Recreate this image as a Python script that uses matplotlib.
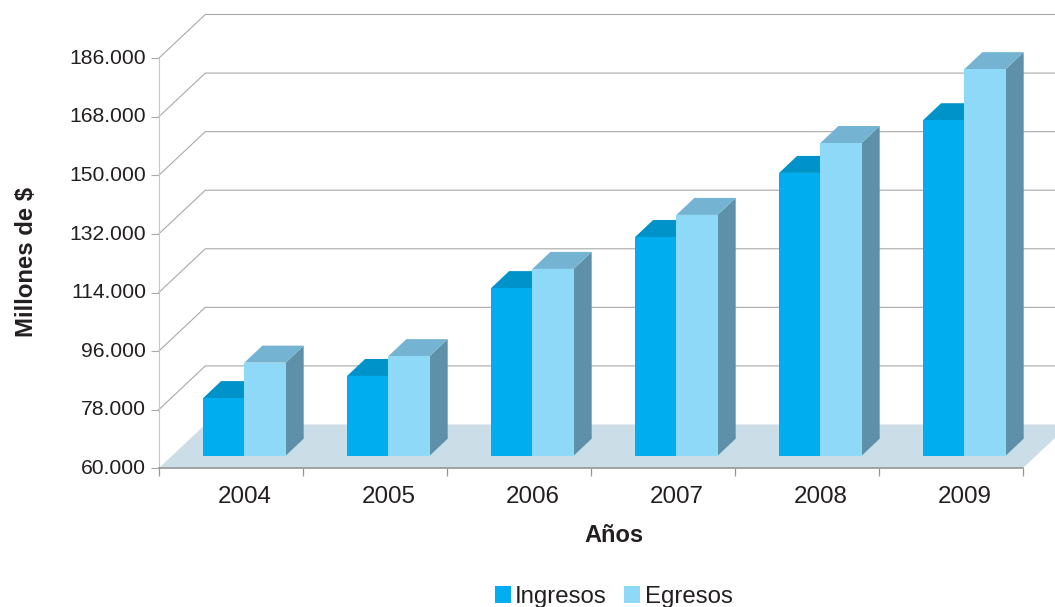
import matplotlib
matplotlib.use("Agg")
import matplotlib.pyplot as plt
from matplotlib.patches import Polygon, Patch
from matplotlib.transforms import ScaledTranslation

plt.rcParams["font.family"] = ["Liberation Sans", "DejaVu Sans"]

years = ["2004", "2005", "2006", "2007", "2008", "2009"]
ingresos = [77.7, 84.5, 111.5, 127.2, 146.9, 163.1]
egresos = [88.6, 90.6, 117.4, 134.0, 156.1, 178.8]
y_ticks = [60, 78, 96, 114, 132, 150, 168, 186]
y_labels = ["60.000", "78.000", "96.000", "114.000", "132.000", "150.000", "168.000", "186.000"]

W, H = 1055, 607
LEFT, BOTTOM, TOP, RIGHT = 158.7, 468.3, 58.3, 1022.7  # plot box in pixels
TEXT = "#231f20"
GRID = "#a9a9a9"

fig = plt.figure(figsize=(W / 100, H / 100), dpi=100)
ax = fig.add_axes([LEFT / W, 1 - BOTTOM / H, (RIGHT - LEFT) / W, (BOTTOM - TOP) / H])
ax.patch.set_alpha(0)
ax.set_xlim(0, 6)
ax.set_ylim(60, 186)

# pixel sizes converted to data units, for the fake 3D depth
px_x = 6 / (RIGHT - LEFT)
px_y = 126 / (BOTTOM - TOP)
wall_dx, wall_dy = 46.6 * px_x, 43.8 * px_y
depth_x, depth_y = 18 * px_x, 17 * px_y
base_dy = 12.6 * px_y
bar_w = 41.3 * px_x
first_bar = (203.1 - LEFT) * px_x
label_shift = 14 * px_x

# Floor and back wall
ax.add_patch(Polygon([(0, 60), (wall_dx, 60 + wall_dy), (6 + wall_dx, 60 + wall_dy), (6, 60)],
                     closed=True, fc="#cbdde6", ec="none", clip_on=False, zorder=1))
for t in y_ticks[1:]:
    ax.plot([0, wall_dx, 6 + wall_dx], [t, t + wall_dy, t + wall_dy],
            color=GRID, lw=0.8, clip_on=False, zorder=1.5)


def draw_bar(x, value, front, top, side, z):
    y0 = 60 + base_dy
    y1 = value + base_dy
    ax.add_patch(Polygon([(x + bar_w, y0), (x + bar_w + depth_x, y0 + depth_y),
                          (x + bar_w + depth_x, y1 + depth_y), (x + bar_w, y1)],
                         closed=True, fc=side, ec="none", clip_on=False, zorder=z))
    ax.add_patch(Polygon([(x, y1), (x + depth_x, y1 + depth_y),
                          (x + bar_w + depth_x, y1 + depth_y), (x + bar_w, y1)],
                         closed=True, fc=top, ec="none", clip_on=False, zorder=z))
    ax.bar(x, value - 60, width=bar_w, bottom=y0, align="edge", color=front,
           linewidth=0, clip_on=False, zorder=z + 0.1)


for i, year in enumerate(years):
    draw_bar(i + first_bar, ingresos[i], "#00aeef", "#0093c9", "#5e90aa", 2 + i)
    draw_bar(i + first_bar + bar_w, egresos[i], "#8ed8f8", "#74b4d2", "#5e90aa", 2.3 + i)

# Axes
for s in ["top", "right"]:
    ax.spines[s].set_visible(False)
ax.spines["left"].set_color("#c8c8c8")
ax.spines["left"].set_linewidth(0.8)
ax.spines["bottom"].set_color("#969696")
ax.spines["bottom"].set_linewidth(1.2)
ax.spines["bottom"].set_zorder(20)

ax.set_yticks(y_ticks)
ax.set_yticklabels(y_labels, fontsize=15.2, color=TEXT)
ax.tick_params(axis="y", length=5.8, width=0.8, color=GRID, pad=3.4)
# the reference labels sit about 2 px above their ticks
up = ScaledTranslation(0, 2 / 72 * 0.72, fig.dpi_scale_trans)
for lbl in ax.get_yticklabels():
    lbl.set_transform(lbl.get_transform() + up)

ax.set_xticks(range(7))
ax.set_xticklabels([""] * 7)
ax.tick_params(axis="x", length=5.8, width=0.9, color="#969696")
ax.set_xticks([i + 0.5 + label_shift for i in range(6)], minor=True)
ax.set_xticklabels(years, minor=True, fontsize=17.4, color=TEXT)
ax.tick_params(axis="x", which="minor", length=0, pad=13)

fig.text(614 / W, 1 - 535 / H, "Años", fontsize=17, fontweight="bold", color=TEXT,
         ha="center", va="center")
fig.text(27 / W, 1 - 262 / H, "Millones de $", rotation=90, fontsize=17.2, fontweight="bold",
         color=TEXT, ha="center", va="center")

handles = [Patch(fc="#00aeef", ec="none", label="Ingresos"),
           Patch(fc="#8ed8f8", ec="none", label="Egresos")]
fig.legend(handles=handles, ncol=2, loc="center", bbox_to_anchor=(613.5 / W, 1 - 597 / H),
           frameon=False, fontsize=17.3, labelcolor=TEXT, handlelength=0.68, handleheight=0.68,
           handletextpad=0.17, columnspacing=0.72, borderpad=0, borderaxespad=0)

fig.savefig("out.png", dpi=100)
